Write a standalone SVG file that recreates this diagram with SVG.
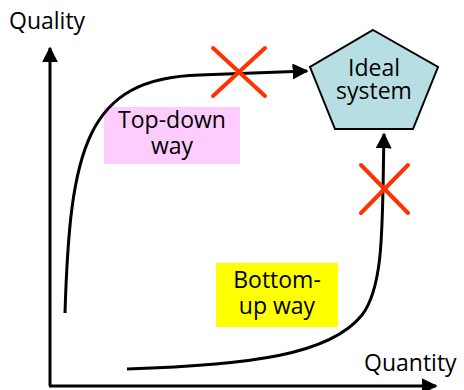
<svg xmlns="http://www.w3.org/2000/svg" width="464" height="390" viewBox="0 0 464 390">
<style>
text{font-family:"Open Sans","Liberation Sans",sans-serif;font-size:23px;fill:#000}
.c{text-anchor:middle}
.ln{fill:none;stroke:#000;stroke-width:3}
.x{stroke:#ff3300;stroke-width:4;stroke-linecap:round}
</style>
<defs>
<marker id="ah2" viewBox="0 0 10 10" refX="9" refY="5" markerWidth="16" markerHeight="16" markerUnits="userSpaceOnUse" orient="auto">
<path d="M0,0 L10,5 L0,10 z" fill="#000"/>
</marker>
</defs>
<g id="axes">
<line class="ln" x1="50" y1="386" x2="50" y2="48" marker-end="url(#ah2)"/>
<line class="ln" x1="49" y1="386" x2="436" y2="386" marker-end="url(#ah2)"/>
<text x="9" y="29">Quality</text>
<text x="364" y="371">Quantity</text>
</g>
<g id="ideal">
<polygon points="373,30 438,67 413,129 335,129 310,67" fill="#b7dfe3" stroke="#000" stroke-width="2"/>
<text class="c"><tspan x="374" y="76">Ideal</tspan><tspan x="374" y="99">system</tspan></text>
</g>
<g id="topdown">
<rect x="104" y="107" width="136" height="57" fill="#ffccff"/>
<text class="c"><tspan x="172" y="128">Top-down</tspan><tspan x="172" y="154">way</tspan></text>
</g>
<g id="bottomup">
<rect x="216" y="263" width="122" height="64" fill="#ffff00"/>
<text class="c"><tspan x="277" y="288">Bottom-</tspan><tspan x="277" y="314">up way</tspan></text>
</g>
<g id="connectors">
<path class="ln" d="M65,313 C70,150 85,78 200,75 L307,71" marker-end="url(#ah2)"/>
<path class="ln" d="M127,369 C250,365 330,355 362,315 C385,285 382,220 384,134" marker-end="url(#ah2)"/>
</g>
<g id="crosses">
<line class="x" x1="213" y1="48" x2="265" y2="96"/>
<line class="x" x1="265" y1="48" x2="213" y2="96"/>
<line class="x" x1="361" y1="165" x2="408" y2="213"/>
<line class="x" x1="408" y1="165" x2="361" y2="213"/>
</g>
</svg>
